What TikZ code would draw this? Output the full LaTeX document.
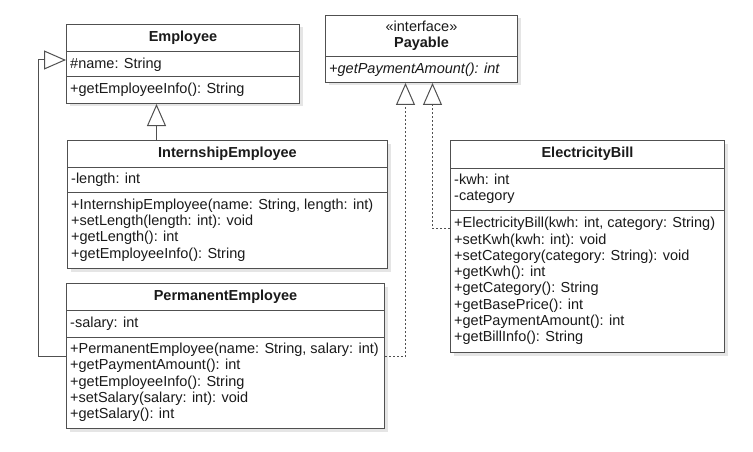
\documentclass[tikz,border=0pt]{standalone}
\usepackage{fontspec}
\setmainfont{Liberation Sans}
\usetikzlibrary{arrows.meta,shadows}

\definecolor{umlline}{HTML}{505050}
\definecolor{umltext}{HTML}{1A1A1A}
\newcommand{\umlfont}{\fontsize{14.5}{16.3}\selectfont}

\tikzset{
  classframe/.style={draw=umlline, line width=1pt, fill=white, anchor=north west, inner sep=0pt,
    drop shadow={shadow xshift=3pt, shadow yshift=-3pt, fill=black!25, opacity=0.4}},
  classhead/.style={inner sep=0pt, align=center, text=umltext, font={\umlfont\bfseries}},
  member/.style={anchor=west, inner sep=0pt, align=left, text=umltext, font=\umlfont},
  sepline/.style={draw=umlline, line width=1pt},
  inherit/.style={draw=umlline, line width=1pt, -{Triangle[open, length=22pt, width=19pt]}},
  realize/.style={inherit, dash pattern=on 2pt off 2pt},
}

\begin{document}
\begin{tikzpicture}[x=1pt, y=-1pt]

    \path[use as bounding box, fill=white] (0,0) rectangle (753,452);

    % Class frames: name/left/top/right/bottom
    \foreach \cname/\xa/\ya/\xb/\yb in {emp/66/24/299/103, pay/325/15/517/82,
        intern/67/140/387/268, perm/66/283/384/428, bill/450/140/724/352} {
        \pgfmathsetmacro{\w}{\xb-\xa}
        \pgfmathsetmacro{\h}{\yb-\ya}
        \node[classframe, minimum width=\w, minimum height=\h] (\cname) at (\xa,\ya) {};
    }

    % Compartment separators
    \foreach \cname/\y in {emp/52, emp/77, pay/57, intern/167, intern/192,
        perm/310, perm/337, bill/168, bill/210} {
        \draw[sepline] (\cname.west |- 0,\y) -- (\cname.east |- 0,\y);
    }

    % Employee
    \node[classhead] (empName) at (emp.north |- 0,38) {Employee};
    \node[member] (empAttr) at (70,64.5) {\#name: String};
    \node[member] (empOps) at (70,90) {+getEmployeeInfo(): String};

    % Payable
    \node[classhead] (payName) at (pay.north |- 0,35.5) {{\mdseries «interface»}\\Payable};
    \node[member, font={\umlfont\itshape}] (payOps) at (329,69.5) {+getPaymentAmount(): int};

    % InternshipEmployee
    \node[classhead] (internName) at (intern.north |- 0,153.5) {InternshipEmployee};
    \node[member] (internAttr) at (71,179.5) {-length: int};
    \node[member] (internOps) at (71,230) {+InternshipEmployee(name: String, length: int)\\
        +setLength(length: int): void\\+getLength(): int\\+getEmployeeInfo(): String};

    % PermanentEmployee
    \node[classhead] (permName) at (perm.north |- 0,296.5) {PermanentEmployee};
    \node[member] (permAttr) at (70,323.5) {-salary: int};
    \node[member] (permOps) at (70,382.5) {+PermanentEmployee(name: String, salary: int)\\
        +getPaymentAmount(): int\\+getEmployeeInfo(): String\\
        +setSalary(salary: int): void\\+getSalary(): int};

    % ElectricityBill
    \node[classhead] (billName) at (bill.north |- 0,154) {ElectricityBill};
    \node[member] (billAttr) at (454,189) {-kwh: int\\-category};
    \node[member] (billOps) at (454,281) {+ElectricityBill(kwh: int, category: String)\\
        +setKwh(kwh: int): void\\+setCategory(category: String): void\\
        +getKwh(): int\\+getCategory(): String\\+getBasePrice(): int\\
        +getPaymentAmount(): int\\+getBillInfo(): String};

    % Generalizations
    \draw[inherit] ([xshift=-71pt]intern.north) -- ([xshift=-26.5pt]emp.south);
    \draw[inherit] (perm.west) -- ++(-28,0) |- ([yshift=4pt]emp.west);

    % Realizations
    \draw[realize] (perm.east) -| ([xshift=-16pt]pay.south);
    \draw[realize] ([yshift=18pt]bill.west) -| ([xshift=11pt]pay.south);

\end{tikzpicture}
\end{document}
